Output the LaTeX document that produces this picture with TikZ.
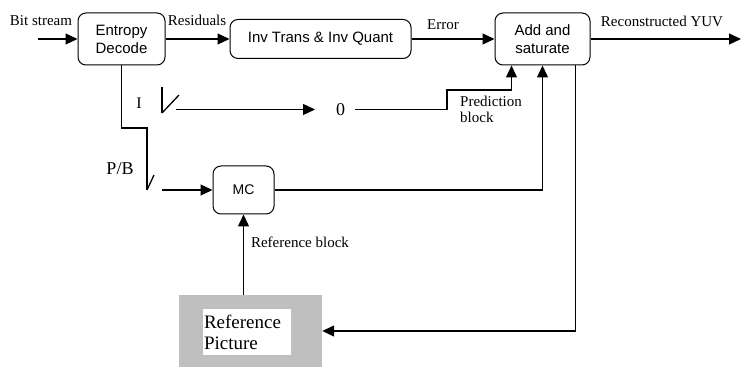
\documentclass[tikz,border=0pt]{standalone}
\usepackage{fontspec}
\setmainfont{Liberation Serif}
\setsansfont{Liberation Sans}
\usepackage{tikz}
\usetikzlibrary{arrows.meta,positioning,calc}

\begin{document}
\begin{tikzpicture}[x=1pt,y=1pt,
	block/.style={rectangle,draw,line width=1pt,rounded corners=8pt,align=center,inner sep=0pt,font=\sffamily\fontsize{15}{18}\selectfont},
	lbl/.style={inner sep=0pt,font=\fontsize{15}{16}\selectfont},
	biglbl/.style={inner sep=0pt,font=\fontsize{18}{20}\selectfont},
	refbox/.style={rectangle,fill=gray!50,minimum width=143pt,minimum height=72pt},
	reftext/.style={rectangle,fill=white,text width=86pt,align=left,inner sep=1pt,minimum height=46pt,font=\fontsize{19}{21}\selectfont},
	paths/.style={-{Triangle[length=12pt,width=11pt]}, line width=1.3pt},
	wire/.style={line width=1.3pt}
	]
\useasboundingbox (0,0) rectangle (741,369);

% blocks
\node [block, minimum width=87pt, minimum height=52pt] at (121.5,330) (ent) {Entropy\\Decode};
\node [block, minimum width=181pt, minimum height=39pt] at (320.5,330) (inv) {Inv Trans \& Inv Quant};
\node [block, minimum width=95pt, minimum height=52pt] at (542.5,330) (add) {Add and\\saturate};
\node [block, minimum width=61pt, minimum height=48pt, font=\sffamily\fontsize{14}{16}\selectfont] at (243.5,179) (mc) {MC};
\node [refbox] at (250.5,38) (ref) {};
\node [reftext] at (247,37) (reftxt) {Reference\\Picture};
\node [biglbl, inner xsep=10pt] at (340.5,259.5) (zero) {0};

% free ends
\coordinate (bs) at (38,330);
\coordinate (out) at (741,330);
\coordinate (pbtop) at (147,241);
\coordinate (pbsw) at (147,179);
\coordinate (pbout) at (162,179);
\coordinate (isw) at (162,256);
\coordinate (iout) at (176,259.5);
\coordinate (izero) at (315,259.5);
\coordinate (pjog) at (447,279);
\coordinate (fb) at ([xshift=-15pt]add.south east);

% labels
\node [lbl, anchor=base] at (41,343) (bslbl) {Bit stream};
\node [lbl, anchor=base] at (197,343) (reslbl) {Residuals};
\node [lbl, anchor=base] at (443,339) (errlbl) {Error};
\node [lbl, anchor=base] at (662,342) (yuvlbl) {Reconstructed YUV};
\node [lbl, anchor=base, font=\fontsize{16}{18}\selectfont] at (139,260) (ilbl) {I};
\node [biglbl, anchor=base] at (120,194) (pblbl) {P/B};
\node [lbl, anchor=base] at (300,121) (rblbl) {Reference block};
\node [lbl, anchor=base west, align=left] at (460,246) (prlbl) {Prediction\\block};

% paths
\draw[paths] (bs) -- (ent);
\draw[paths] (ent) -- (inv);
\draw[paths] (inv) -- (add);
\draw[paths] (add) -- (out);

\draw[wire] (ent.south) |- (pbtop) -- (pbsw);
\draw[wire] (pbsw) -- ++(7,15);
\draw[paths] (pbout) -- (mc);

\draw[wire] (isw) -- ++(0,26);
\draw[wire] (isw) -- ++(17,18);
\draw[paths] (iout) -- (izero);
\draw[paths] (zero.east) -| (pjog) -| ([xshift=17pt]add.south west);

\draw[paths] (mc.east) -| (add.south);
\draw[paths] (fb) |- (ref.east);
\draw[paths] (ref.north -| mc.south) -- (mc.south);

\end{tikzpicture}
\end{document}
